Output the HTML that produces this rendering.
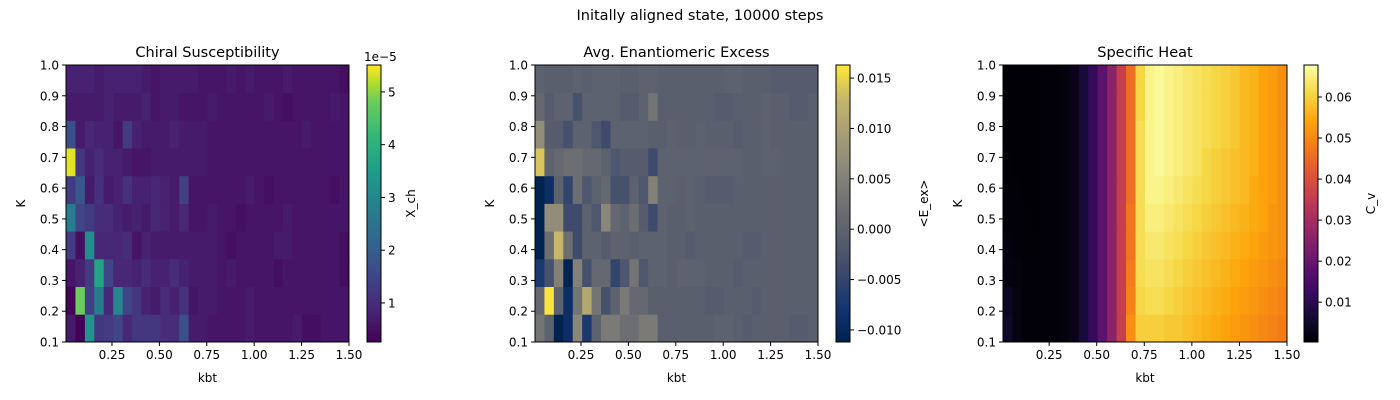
<!DOCTYPE html>
<html><head><meta charset="utf-8"><style>
html,body{margin:0;padding:0;background:#fff;}
svg{display:block;font-family:"DejaVu Sans","Liberation Sans",sans-serif;}
</style></head><body>
<svg id="fig" width="1400" height="400" xmlns="http://www.w3.org/2000/svg">
<text x="700" y="20" font-size="14.5" text-anchor="middle">Initally aligned state, 10000 steps</text>
</svg>
<script>
// ---- data (rows from K=0.1 (bottom) to K=1.0 (top), 30 kbt columns) ----
const kValues = [0.1,0.2,0.3,0.4,0.5,0.6,0.7,0.8,0.9,1.0];
const xTicks = [0.25,0.5,0.75,1.0,1.25,1.5];
const xTickLabels = ["0.25","0.50","0.75","1.00","1.25","1.50"];
const yTicks = [0.1,0.2,0.3,0.4,0.5,0.6,0.7,0.8,0.9,1.0];
const yTickLabels = ["0.1","0.2","0.3","0.4","0.5","0.6","0.7","0.8","0.9","1.0"];
// Chiral susceptibility (units of 1e-5)
const chiRows = [
[0.7,0.3,3.3,1.2,1.3,1.5,0.9,1.2,1.2,1.2,1.0,1.0,1.7,0.7,0.7,0.6,0.6,0.6,0.6,0.7,0.6,0.6,0.6,0.6,0.7,0.5,0.5,0.6,0.6,0.6],
[0.3,4.8,1.4,2.7,0.9,3.0,1.5,1.2,0.8,0.7,1.0,0.8,1.1,0.6,0.7,0.7,0.6,0.6,0.6,0.7,0.6,0.6,0.6,0.6,0.6,0.6,0.6,0.6,0.6,0.6],
[0.6,0.8,1.3,3.7,1.5,0.9,0.9,0.8,1.0,0.8,0.8,1.0,0.8,0.7,0.7,0.7,0.6,0.7,0.6,0.6,0.6,0.6,0.5,0.6,0.6,0.6,0.6,0.6,0.6,0.5],
[1.3,0.5,3.2,0.9,0.9,0.9,1.0,0.6,0.8,0.7,0.7,0.7,0.7,0.7,0.7,0.7,0.6,0.5,0.6,0.6,0.6,0.6,0.7,0.7,0.6,0.6,0.6,0.6,0.6,0.5],
[2.7,1.5,1.3,1.0,1.0,0.8,0.7,0.8,0.7,0.9,0.8,0.7,0.9,0.6,0.6,0.7,0.6,0.6,0.5,0.6,0.6,0.6,0.6,0.7,0.6,0.6,0.6,0.6,0.6,0.6],
[1.3,1.9,0.7,1.1,0.7,0.8,1.1,0.8,0.8,0.9,0.8,0.7,1.4,0.6,0.6,0.6,0.6,0.6,0.6,0.7,0.6,0.5,0.6,0.6,0.6,0.6,0.6,0.6,0.5,0.6],
[5.4,1.2,0.8,1.0,0.8,0.8,0.7,0.6,0.6,0.7,0.7,0.7,0.7,0.7,0.7,0.6,0.6,0.6,0.6,0.6,0.6,0.6,0.6,0.6,0.6,0.6,0.6,0.6,0.6,0.6],
[1.7,0.7,0.9,0.8,0.8,0.6,1.3,0.8,0.7,0.7,0.7,0.8,0.7,0.7,0.7,0.6,0.6,0.6,0.6,0.6,0.6,0.6,0.6,0.6,0.6,0.7,0.6,0.6,0.6,0.6],
[0.7,0.7,0.7,0.7,0.8,0.7,0.7,0.7,0.8,0.6,0.7,0.7,0.6,0.6,0.6,0.7,0.6,0.6,0.6,0.6,0.6,0.7,0.6,0.5,0.6,0.6,0.6,0.6,0.7,0.6],
[0.8,0.8,0.8,0.7,0.8,0.8,0.8,0.8,0.7,0.6,0.7,0.7,0.7,0.7,0.6,0.6,0.6,0.7,0.6,0.7,0.6,0.6,0.6,0.7,0.6,0.6,0.6,0.6,0.6,0.5]];
// Enantiomeric excess
const eexRows = [
[0.003,0.0,-0.011,-0.009,0.006,-0.007,0.0,0.004,0.004,0.002,0.002,0.004,0.004,-0.0005,-0.0005,-0.0005,-0.0005,-0.0005,-0.0005,0.0,0.0,-0.0005,-0.001,-0.0005,-0.0005,-0.0005,-0.0005,-0.001,-0.001,-0.0005],
[0.001,0.016,0.0,-0.009,0.003,0.011,0.003,-0.003,0.0,0.004,0.001,0.001,-0.0005,-0.0005,-0.0005,-0.0005,-0.0005,-0.0005,-0.001,-0.001,-0.0005,-0.0005,-0.0005,-0.001,-0.0005,-0.0005,-0.0005,-0.0005,-0.0005,-0.0005],
[-0.007,-0.003,0.005,-0.011,0.005,-0.003,0.001,0.001,-0.005,-0.002,0.003,-0.002,0.0,0.0,-0.0005,0.0,0.0,0.0,-0.0005,-0.0005,-0.0005,-0.001,-0.0005,-0.0005,-0.0005,-0.0005,-0.0005,-0.0005,-0.0005,-0.0005],
[-0.011,0.002,0.013,0.002,-0.004,0.0,0.0,-0.001,0.0,0.0,-0.0005,0.0,0.0,0.0,-0.0005,-0.0005,-0.001,-0.0005,-0.0005,-0.0005,-0.0005,-0.0005,-0.001,-0.001,-0.0005,-0.0005,-0.0005,-0.0005,-0.0005,-0.0005],
[-0.011,0.007,0.007,-0.004,-0.004,0.0,-0.002,0.006,0.001,0.0,0.002,-0.001,-0.004,0.0,-0.0005,-0.0005,0.0,-0.0005,-0.0005,-0.0005,-0.0005,-0.0005,-0.0005,-0.0005,-0.0005,-0.0005,-0.0005,-0.0005,-0.0005,-0.0005],
[-0.011,-0.009,0.0,-0.005,0.002,-0.002,0.0,0.001,-0.003,-0.003,0.0,-0.002,0.005,0.0,0.0,-0.0005,0.0,-0.0005,-0.001,-0.001,-0.001,-0.0005,-0.0005,-0.0005,-0.0005,-0.0005,-0.0005,-0.0005,-0.0005,-0.0005],
[0.014,0.0,0.001,0.002,0.002,0.001,0.001,0.0,-0.002,-0.001,-0.001,-0.001,-0.004,0.0,0.0,0.0,0.0,0.0,0.0,0.0,0.0,0.0,-0.0005,-0.0005,0.0,0.0,-0.0005,-0.0005,-0.0005,-0.0005],
[0.007,-0.001,-0.001,-0.003,0.0,0.0,-0.002,-0.004,0.0,0.0,0.0,0.0,-0.0005,-0.0005,0.0,-0.0005,-0.0005,0.0,-0.0005,-0.0005,-0.0005,-0.001,-0.0005,-0.0005,0.0,-0.0005,-0.0005,-0.0005,-0.0005,-0.0005],
[0.001,-0.001,0.0,0.0,-0.003,0.0,0.0,0.0,0.0,-0.001,-0.001,0.0,0.003,-0.0005,-0.0005,-0.0005,-0.0005,-0.0005,-0.0005,-0.001,-0.001,-0.0005,-0.0005,-0.0005,0.0,-0.0005,-0.0005,-0.001,-0.001,-0.0005],
[0.0,-0.0005,-0.0005,-0.0005,0.0,-0.0005,0.0,0.0,0.0,-0.0005,-0.0005,0.0,0.0,-0.0005,-0.0005,-0.0005,-0.0005,-0.0005,-0.0005,-0.0005,0.0,0.0,-0.0005,-0.0005,-0.0005,-0.001,-0.001,-0.001,-0.001,-0.001]];
// Specific heat
const cvRows = [
[0.005,0.002,0.001,0.0007,0.0007,0.001,0.0015,0.003,0.007,0.012,0.018,0.026,0.036,0.051,0.060,0.060,0.060,0.059,0.059,0.058,0.057,0.056,0.055,0.054,0.053,0.052,0.051,0.050,0.049,0.048],
[0.004,0.002,0.001,0.0007,0.0007,0.001,0.0015,0.003,0.007,0.012,0.018,0.026,0.036,0.049,0.061,0.062,0.062,0.061,0.060,0.059,0.058,0.057,0.056,0.055,0.054,0.053,0.052,0.051,0.050,0.049],
[0.002,0.0015,0.001,0.0007,0.0007,0.001,0.0015,0.003,0.007,0.012,0.018,0.026,0.036,0.048,0.062,0.063,0.063,0.062,0.061,0.060,0.059,0.058,0.057,0.056,0.055,0.054,0.053,0.052,0.051,0.050],
[0.0015,0.001,0.0008,0.0007,0.0007,0.001,0.0015,0.003,0.007,0.012,0.018,0.026,0.036,0.047,0.062,0.064,0.064,0.063,0.062,0.061,0.060,0.059,0.058,0.057,0.056,0.055,0.054,0.053,0.052,0.051],
[0.001,0.0008,0.0007,0.0006,0.0007,0.001,0.0015,0.003,0.007,0.012,0.018,0.026,0.036,0.047,0.062,0.065,0.065,0.064,0.063,0.062,0.061,0.060,0.059,0.058,0.057,0.056,0.055,0.054,0.052,0.051],
[0.0008,0.0007,0.0006,0.0006,0.0007,0.001,0.0015,0.003,0.007,0.012,0.018,0.026,0.036,0.046,0.062,0.066,0.066,0.065,0.064,0.063,0.062,0.061,0.060,0.059,0.058,0.057,0.055,0.054,0.053,0.051],
[0.0007,0.0006,0.0006,0.0006,0.0007,0.001,0.0015,0.003,0.007,0.012,0.018,0.026,0.036,0.046,0.062,0.066,0.067,0.066,0.065,0.064,0.063,0.061,0.060,0.059,0.058,0.057,0.056,0.054,0.053,0.051],
[0.0006,0.0006,0.0006,0.0006,0.0007,0.001,0.0015,0.003,0.007,0.012,0.018,0.026,0.036,0.046,0.062,0.066,0.067,0.066,0.065,0.064,0.063,0.062,0.061,0.060,0.059,0.057,0.056,0.054,0.053,0.051],
[0.0006,0.0006,0.0006,0.0006,0.0007,0.001,0.0015,0.003,0.007,0.012,0.018,0.026,0.036,0.046,0.061,0.066,0.067,0.066,0.065,0.064,0.063,0.062,0.061,0.060,0.059,0.057,0.056,0.054,0.053,0.051],
[0.0006,0.0006,0.0006,0.0006,0.0007,0.001,0.0015,0.003,0.007,0.012,0.018,0.026,0.036,0.046,0.061,0.066,0.067,0.066,0.065,0.064,0.063,0.062,0.061,0.060,0.059,0.057,0.056,0.054,0.053,0.051]];
const chiTicks = [1,2,3,4,5];
const chiTickLabels = ["1","2","3","4","5"];
const eexTicks = [-0.010,-0.005,0,0.005,0.010,0.015];
const eexTickLabels = ["\u22120.010","\u22120.005","0.000","0.005","0.010","0.015"];
const cvTicks = [0.01,0.02,0.03,0.04,0.05,0.06];
const cvTickLabels = ["0.01","0.02","0.03","0.04","0.05","0.06"];

// ---- colormaps ----
const VIRIDIS=[[0,"#440154"],[0.125,"#482878"],[0.25,"#3e4989"],[0.375,"#31688e"],[0.5,"#26828e"],[0.625,"#1f9e89"],[0.75,"#35b779"],[0.875,"#6ece58"],[0.94,"#b5de2b"],[1,"#fde725"]];
const CIVIDIS=[[0,"#00224e"],[0.125,"#123570"],[0.25,"#3b496c"],[0.375,"#575d6d"],[0.5,"#707173"],[0.625,"#8a8779"],[0.75,"#a69d75"],[0.875,"#c4b56c"],[1,"#fee838"]];
const INFERNO=[[0,"#000004"],[0.1,"#160b39"],[0.2,"#420a68"],[0.3,"#6a176e"],[0.4,"#932667"],[0.5,"#bc3754"],[0.6,"#dd513a"],[0.7,"#f37819"],[0.8,"#fca50a"],[0.9,"#f6d746"],[1,"#fcffa4"]];
function hx(h){return [1,3,5].map(i=>parseInt(h.substr(i,2),16));}
function cmap(stops,t){t=Math.max(0,Math.min(1,t));
  for(let i=1;i<stops.length;i++){if(t<=stops[i][0]){const a=stops[i-1],b=stops[i];const f=(t-a[0])/(b[0]-a[0]);const ca=hx(a[1]),cb=hx(b[1]);
    return "rgb("+ca.map((v,k)=>Math.round(v+(cb[k]-v)*f)).join(",")+")";}}
  return stops[stops.length-1][1];}

const NS="http://www.w3.org/2000/svg";
const svg=document.getElementById("fig");
function el(tag,attrs,parent){const e=document.createElementNS(NS,tag);for(const k in attrs)e.setAttribute(k,attrs[k]);(parent||svg).appendChild(e);return e;}
function txt(s,attrs,parent){const e=el("text",attrs,parent);e.textContent=s;return e;}

const TOP=65,BOT=342;
const XMIN=0.0075,XMAX=1.5,YMIN=0.1,YMAX=1.0;
const FS=12;
function drawPanel(cfg){
  const g=el("g",{});
  
  
  const L=cfg.x0,R=cfg.x1;
  const xs=v=>L+(v-XMIN)/(XMAX-XMIN)*(R-L);
  const ys=v=>BOT-(v-YMIN)/(YMAX-YMIN)*(BOT-TOP);
  const nC=cfg.rows[0].length,nR=cfg.rows.length;
  const cw=(XMAX-XMIN)/nC,rh=(YMAX-YMIN)/nR;
  const cs=v=>(v-cfg.vmin)/(cfg.vmax-cfg.vmin);
  cfg.rows.forEach((row,r)=>row.forEach((v,c)=>{
    const x=xs(XMIN+c*cw),x2=xs(XMIN+(c+1)*cw),y=ys(YMIN+(r+1)*rh),y2=ys(YMIN+r*rh);
    const rc=el("rect",{x:x,y:y,width:x2-x+0.4,height:y2-y+0.4,fill:cmap(cfg.cm,cs(v))},g);
    
    
  }));
  const fr=el("rect",{x:L,y:TOP,width:R-L,height:BOT-TOP,fill:"none",stroke:"#000","stroke-width":1},g);
  
  
  xTicks.forEach((t,i)=>{const x=xs(t);el("line",{x1:x,x2:x,y1:BOT,y2:BOT+4,stroke:"#000"},g);
    const tl=txt(xTickLabels[i],{x:x,y:BOT+17,"font-size":FS,"text-anchor":"middle"},g);
    
    });
  yTicks.forEach((t,i)=>{const y=ys(t);el("line",{x1:L-4,x2:L,y1:y,y2:y,stroke:"#000"},g);
    const tl=txt(yTickLabels[i],{x:L-7,y:y+4.5,"font-size":FS,"text-anchor":"end"},g);
    
    });
  const xt=txt("kbt",{x:(L+R)/2,y:382,"font-size":FS,"text-anchor":"middle"},g);
  
  
  const yt=txt("K",{x:0,y:0,"font-size":FS,"text-anchor":"middle",transform:"translate("+(L-41)+","+((TOP+BOT)/2)+") rotate(-90)"},g);
  
  
  const tt=txt(cfg.title,{x:(L+R)/2,y:57,"font-size":14.5,"text-anchor":"middle"},g);
  
  
  // colorbar
  const cb=el("g",{},g);
  
  
  const N=120,ch=(BOT-TOP)/N;
  for(let i=0;i<N;i++){el("rect",{x:cfg.cbx,y:BOT-(i+1)*ch,width:14,height:ch+0.5,fill:cmap(cfg.cm,(i+0.5)/N)},cb);}
  el("rect",{x:cfg.cbx,y:TOP,width:14,height:BOT-TOP,fill:"none",stroke:"#000"},cb);
  const cy=v=>BOT-cs(v)*(BOT-TOP);
  cfg.ticks.forEach((t,i)=>{const y=cy(t);el("line",{x1:cfg.cbx+14,x2:cfg.cbx+18,y1:y,y2:y,stroke:"#000"},cb);
    const tl=txt(cfg.tickLabels[i],{x:cfg.cbx+21,y:y+4.5,"font-size":FS},cb);
    
    });
  const lb=txt(cfg.label,{x:0,y:0,"font-size":FS,"text-anchor":"middle",transform:"translate("+cfg.lblx+","+((TOP+BOT)/2)+") rotate(-90)"},cb);
  
  
  if(cfg.offset){const o=txt(cfg.offset,{x:cfg.cbx-3,y:61,"font-size":FS},cb);
    
    }
}
drawPanel({name:"chiral-susceptibility",title:"Chiral Susceptibility",x0:66,x1:349,rows:chiRows,cm:VIRIDIS,vmin:0.26,vmax:5.51,cbx:367,ticks:chiTicks,tickLabels:chiTickLabels,label:"X_ch",lblx:415,offset:"1e\u22125"});
drawPanel({name:"enantiomeric-excess",title:"Avg. Enantiomeric Excess",x0:535,x1:818,rows:eexRows,cm:CIVIDIS,vmin:-0.0112,vmax:0.0163,cbx:836,ticks:eexTicks,tickLabels:eexTickLabels,label:"<E_ex>",lblx:928});
drawPanel({name:"specific-heat",title:"Specific Heat",x0:1003,x1:1287,rows:cvRows,cm:INFERNO,vmin:0.0003,vmax:0.0678,cbx:1304,ticks:cvTicks,tickLabels:cvTickLabels,label:"C_v",lblx:1375});
</script>
</body></html>
